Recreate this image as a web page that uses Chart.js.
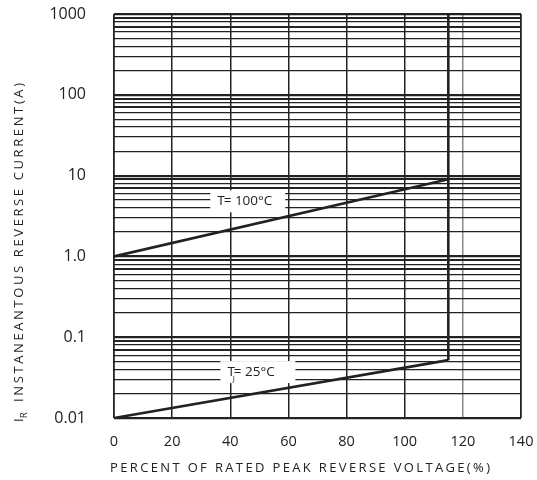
<!DOCTYPE html>
<html>
<head>
<meta charset="utf-8">
<script src="https://cdn.jsdelivr.net/npm/chart.js@4"></script>
<style>
  html, body { margin: 0; padding: 0; background: #fff; }
  #wrap { width: 537px; height: 480px; }
</style>
</head>
<body>
<div id="wrap"><canvas id="chart"></canvas></div>
<script>
// Data
const pctVoltage = [0, 115];
const current100 = [1.0, 9.0];
const current25 = [0.01, 0.052];
const breakdownX = [115, 115];
const breakdownY = [0.052, 1000];

const xTicks = [0, 20, 40, 60, 80, 100, 120, 140];
const yMajor = [0.01, 0.1, 1, 10, 100, 1000];
const yLabels = ['0.01', '0.1', '1.0', '10', '100', '1000'];
const minorSteps = [2, 3, 4, 5, 6, 7, 8, 9];

const curveLabels = [
  { x: 46, y: 4.8, main: 'T', sub: '', rest: '= 100°C' },
  { x: 49.5, y: 0.037, main: 'T', sub: 'J', rest: '= 25°C' }
];

// gridline values for the log axis: every 1..9 of each decade
const yGrid = [];
yMajor.forEach((m, i) => {
  yGrid.push(m);
  if (i < yMajor.length - 1) minorSteps.forEach(s => yGrid.push(+(m * s).toPrecision(3)));
});

const toPoints = (xs, ys) => xs.map((x, i) => ({ x: x, y: ys[i] }));
const font = '"Open Sans", "DejaVu Sans", sans-serif';

// draw text with letter spacing stretched to a given length
function spacedText(ctx, text, x, y, width) {
  ctx.letterSpacing = '0px';
  const w = ctx.measureText(text).width;
  const sp = (width - w) / (text.length - 1);
  ctx.letterSpacing = sp + 'px';
  ctx.fillText(text, x, y);
  ctx.letterSpacing = '0px';
}

// Axis titles and curve labels
const annotations = {
  id: 'annotations',
  afterDatasetsDraw(chart) {
    const ctx = chart.ctx;
    const xs = chart.scales.x, ys = chart.scales.y;
    ctx.save();
    ctx.textBaseline = 'middle';
    ctx.textAlign = 'left';

    // curve labels with white boxes
    curveLabels.forEach(l => {
      const px = xs.getPixelForValue(l.x), py = ys.getPixelForValue(l.y);
      const w = 75, h = 22;
      ctx.fillStyle = '#fff';
      ctx.fillRect(px - w / 2, py - h / 2, w, h);
      ctx.fillStyle = '#222';
      ctx.font = '13.5px ' + font;
      let cx = px - w / 2 + 7;
      ctx.fillText(l.main, cx, py);
      cx += ctx.measureText(l.main).width - 1;
      if (l.sub) {
        ctx.font = '8px ' + font;
        ctx.fillText(l.sub, cx - 1, py + 7);
        ctx.font = '13.5px ' + font;
      }
      ctx.fillText(l.rest, cx, py);
    });

    ctx.fillStyle = '#222';
    // x title
    ctx.font = '13px ' + font;
    spacedText(ctx, 'PERCENT OF RATED PEAK REVERSE VOLTAGE(%)', 110, 468, 380);

    // y title (rotated)
    ctx.translate(19, 422);
    ctx.rotate(-Math.PI / 2);
    ctx.font = '13px ' + font;
    ctx.fillText('I', 0, 0);
    ctx.font = '9px ' + font;
    ctx.fillText('R', 4, 5);
    ctx.font = '13px ' + font;
    spacedText(ctx, 'INSTANEANTOUS REVERSE CURRENT(A)', 20, 0, 319);
    ctx.restore();
  }
};

const ctx = document.getElementById('chart').getContext('2d');
const chart = new Chart(ctx, {
  type: 'line',
  data: {
    datasets: [
      { label: '100C', data: toPoints(pctVoltage, current100) },
      { label: '25C', data: toPoints(pctVoltage, current25) },
      { label: 'breakdown', data: toPoints(breakdownX, breakdownY) }
    ]
  },
  options: {
    responsive: true,
    maintainAspectRatio: false,
    animation: false,
    layout: { padding: { top: 14, right: 16, left: 0, bottom: 0 } },
    elements: {
      line: { borderColor: '#222', borderWidth: 2.6, tension: 0 },
      point: { radius: 0 }
    },
    plugins: { legend: { display: false }, tooltip: { enabled: false } },
    scales: {
      x: {
        type: 'linear',
        min: 0,
        max: 140,
        afterBuildTicks: axis => { axis.ticks = xTicks.map(v => ({ value: v })); },
        afterFit: axis => { axis.height = 62; axis.paddingLeft = 0; axis.paddingRight = 0; },
        border: { display: false },
        grid: {
          drawTicks: false,
          color: c => (c.tick && c.tick.value === 120 ? '#8a8a8a' : '#222'),
          lineWidth: c => (c.tick && (c.tick.value === 0 || c.tick.value === 140) ? 1.8 : 1.5)
        },
        ticks: { color: '#222', font: { family: font, size: 14.5 }, padding: 15, maxRotation: 0 }
      },
      y: {
        type: 'logarithmic',
        min: 0.01,
        max: 1000,
        afterBuildTicks: axis => { axis.ticks = yGrid.map(v => ({ value: v })); },
        afterFit: axis => { axis.width = 114; axis.paddingTop = 0; axis.paddingBottom = 0; },
        border: { display: false },
        grid: {
          drawTicks: false,
          color: '#222',
          lineWidth: c => {
            if (!c.tick) return 1.2;
            const v = c.tick.value;
            if (yMajor.includes(v)) return 2.2;
            const s = Math.round(v / Math.pow(10, Math.floor(Math.log10(v) + 1e-9)));
            return (s === 7 || s === 9) ? 1.9 : 1.2;
          }
        },
        ticks: {
          color: '#222',
          font: { family: font, size: 16 },
          padding: 28,
          autoSkip: false,
          callback: v => {
            const i = yMajor.findIndex(m => Math.abs(m - v) < m * 1e-6);
            return i >= 0 ? yLabels[i] : '';
          }
        }
      }
    }
  },
  plugins: [annotations]
});
</script>
</body>
</html>
